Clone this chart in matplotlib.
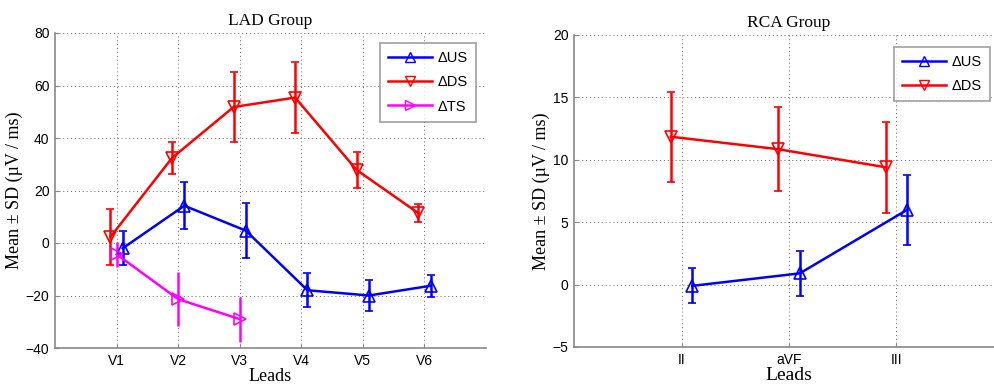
import matplotlib
matplotlib.use("Agg")
import matplotlib.pyplot as plt
from matplotlib.lines import Line2D
import numpy as np

# ---- data ----
lad_leads = ["V1", "V2", "V3", "V4", "V5", "V6"]
lad_us_mean = [-2.0, 14.2, 4.7, -18.0, -20.0, -16.3]
lad_us_sd = [6.5, 8.9, 10.5, 6.4, 5.9, 4.2]
lad_ds_mean = [2.3, 32.4, 51.8, 55.4, 27.8, 11.4]
lad_ds_sd = [10.6, 6.0, 13.2, 13.5, 6.8, 3.4]
lad_ts_leads = ["V1", "V2", "V3"]
lad_ts_mean = [-4.3, -21.4, -29.0]
lad_ts_sd = [4.8, 10.3, 8.6]

rca_leads = ["II", "aVF", "III"]
rca_us_mean = [-0.1, 0.9, 6.0]
rca_us_sd = [1.4, 1.8, 2.8]
rca_ds_mean = [11.85, 10.85, 9.4]
rca_ds_sd = [3.6, 3.35, 3.65]

SERIF = "Liberation Serif"
SANS = "Liberation Sans"
BLUE, RED, MAG = "#0000ff", "#ff0000", "#ff00ff"

fig = plt.figure(figsize=(9.95, 3.89), dpi=100)
ax1 = fig.add_axes([55 / 995, 41 / 389, 431 / 995, 315 / 389])
ax2 = fig.add_axes([574 / 995, 42 / 389, 430 / 995, 312 / 389])


def style(ax, ylim, yticks, xticklabels, title, labsize):
    n = len(xticklabels)
    ax.set_xlim(0, n + 1)
    ax.set_ylim(*ylim)
    ax.set_yticks(yticks)
    ax.set_xticks(np.arange(1, n + 1))
    ax.set_xticklabels(xticklabels, fontfamily=SANS, fontsize=10)
    for lab in ax.get_yticklabels():
        lab.set_fontfamily(SANS)
        lab.set_fontsize(10)
    ax.grid(True, linestyle=(0, (1, 3)), color="#666666", linewidth=0.7)
    for s in ["top", "right"]:
        ax.spines[s].set_visible(False)
    for s in ["left", "bottom"]:
        ax.spines[s].set_color("#888888")
        ax.spines[s].set_linewidth(1.2)
    ax.tick_params(direction="in", length=3, color="#888888", pad=4)
    ax.set_title(title, fontfamily=SERIF, fontsize=12.5, pad=6)
    ax.set_xlabel("Leads", fontfamily=SERIF, fontsize=labsize, labelpad=0)
    ax.set_ylabel("Mean ± SD (µV / ms)", fontfamily=SERIF, fontsize=13, labelpad=2)


def series(ax, x, m, s, color, marker, cap=3):
    ax.errorbar(x, m, yerr=s, color=color, marker=marker, markersize=8,
                markerfacecolor="none", markeredgecolor=color, markeredgewidth=1.2,
                linewidth=1.8, elinewidth=1.8, capsize=cap, capthick=1.5)


def handle(color, marker, label):
    return Line2D([], [], color=color, linewidth=1.8, marker=marker, markersize=7,
                  markerfacecolor="none", markeredgecolor=color, markeredgewidth=1.0,
                  label=label)


def legend(ax, handles, anchor):
    leg = ax.legend(handles=handles, loc="upper right", bbox_to_anchor=anchor,
                    borderaxespad=0, prop={"family": SANS, "size": 10.5},
                    fancybox=False, edgecolor="#888888", handlelength=3.0,
                    borderpad=0.55, labelspacing=0.7, handletextpad=0.4)
    leg.get_frame().set_linewidth(1.2)


x_lad = np.arange(1, len(lad_leads) + 1)
series(ax1, x_lad + 0.1, lad_us_mean, lad_us_sd, BLUE, "^")
series(ax1, x_lad - 0.1, lad_ds_mean, lad_ds_sd, RED, "v")
series(ax1, np.arange(1, len(lad_ts_leads) + 1), lad_ts_mean, lad_ts_sd, MAG, ">", cap=0)
style(ax1, (-40, 80), np.arange(-40, 81, 20), lad_leads, "LAD Group", 13)
legend(ax1, [handle(BLUE, "^", "ΔUS"), handle(RED, "v", "ΔDS"), handle(MAG, ">", "ΔTS")],
       (0.977, 0.968))

x_rca = np.arange(1, len(rca_leads) + 1)
series(ax2, x_rca + 0.1, rca_us_mean, rca_us_sd, BLUE, "^")
series(ax2, x_rca - 0.1, rca_ds_mean, rca_ds_sd, RED, "v")
style(ax2, (-5, 20), np.arange(-5, 21, 5), rca_leads, "RCA Group", 14)
legend(ax2, [handle(BLUE, "^", "ΔUS"), handle(RED, "v", "ΔDS")], (0.967, 0.962))

fig.savefig("out.png", dpi=100)
